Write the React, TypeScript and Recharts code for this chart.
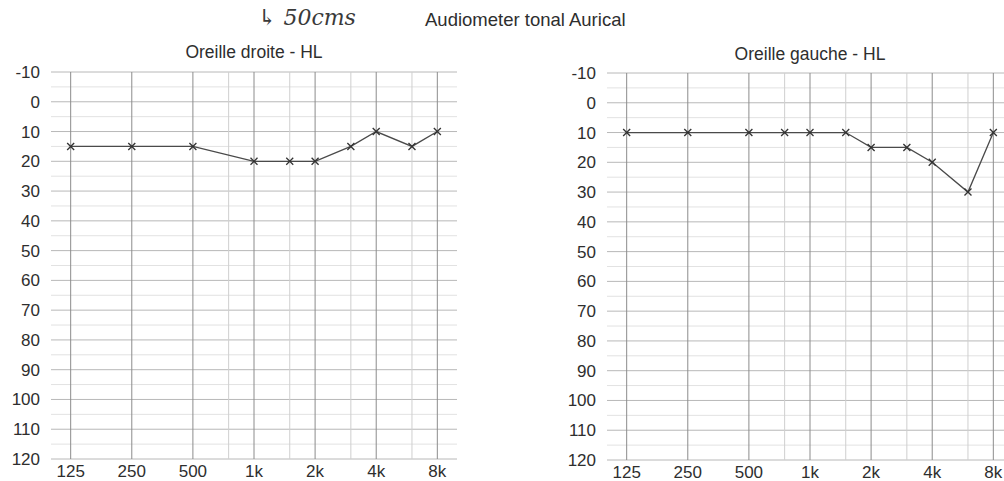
import React from 'react';
import { LineChart, Line, XAxis, YAxis, ReferenceLine } from 'recharts';

// frequencies (Hz) and thresholds (dB HL)
const rightFreqs = [125, 250, 500, 1000, 1500, 2000, 3000, 4000, 6000, 8000];
const rightDb = [15, 15, 15, 20, 20, 20, 15, 10, 15, 10];
const leftFreqs = [125, 250, 500, 750, 1000, 1500, 2000, 3000, 4000, 6000, 8000];
const leftDb = [10, 10, 10, 10, 10, 10, 15, 15, 20, 30, 10];

const octaveFreqs = [125, 250, 500, 1000, 2000, 4000, 8000];
const octaveLabels = ['125', '250', '500', '1k', '2k', '4k', '8k'];
const halfFreqs = [750, 1500, 3000, 6000];
const dbTicks = [-10, 0, 10, 20, 30, 40, 50, 60, 70, 80, 90, 100, 110, 120];
const dbMinor = [-5, 5, 15, 25, 35, 45, 55, 65, 75, 85, 95, 105, 115];

const FONT = '"Liberation Sans", Arial, sans-serif';
const TEXT = '#2e2e2e';

const Cross = (props: any) => {
    const { cx, cy } = props;
    if (cx == null || cy == null) return null;
    const s = 3.5;
    return (
        <g stroke="#333" strokeWidth={1.3}>
            <line x1={cx - s} y1={cy - s} x2={cx + s} y2={cy + s} />
            <line x1={cx - s} y1={cy + s} x2={cx + s} y2={cy - s} />
        </g>
    );
};

interface EarProps {
    freqs: number[];
    values: number[];
    width: number;
    top: number;
    right: number;
    xAxisHeight: number;
}

const EarChart: React.FC<EarProps> = ({ freqs, values, width, top, right, xAxisHeight }) => {
    const data = freqs.map((f, i) => ({ f, db: values[i] }));
    const label = (v: number) => octaveLabels[octaveFreqs.indexOf(v)] ?? String(v);

    return (
        <LineChart width={width} height={481} data={data} margin={{ top, right, bottom: 0, left: 0 }}>
            {dbMinor.map((d) => (
                <ReferenceLine key={'m' + d} y={d} stroke="#e2e2e2" strokeWidth={1} />
            ))}
            {dbTicks.map((d) => (
                <ReferenceLine key={'t' + d} y={d} stroke="#b8b8b8" strokeWidth={1} />
            ))}
            {halfFreqs.map((f) => (
                <ReferenceLine key={'h' + f} x={f} stroke="#cfcfcf" strokeWidth={1} />
            ))}
            {octaveFreqs.map((f) => (
                <ReferenceLine key={'o' + f} x={f} stroke="#8c8c8c" strokeWidth={1} />
            ))}
            <XAxis
                dataKey="f"
                type="number"
                scale="log"
                domain={[100, 10000]}
                allowDataOverflow
                ticks={octaveFreqs}
                tickFormatter={label}
                axisLine={false}
                tickLine={false}
                tickSize={0}
                tickMargin={6}
                height={xAxisHeight}
                interval={0}
                tick={{ fill: TEXT, fontSize: 17, fontFamily: FONT }}
            />
            <YAxis
                type="number"
                reversed
                domain={[-10, 120]}
                ticks={dbTicks}
                interval={0}
                axisLine={false}
                tickLine={false}
                tickSize={0}
                tickMargin={11}
                width={51}
                tick={{ fill: TEXT, fontSize: 17, fontFamily: FONT }}
            />
            <Line
                dataKey="db"
                stroke="#4a4a4a"
                strokeWidth={1.3}
                dot={<Cross />}
                activeDot={false}
                isAnimationActive={false}
            />
        </LineChart>
    );
};

const App: React.FC = () => {
    return (
        <div
            style={{
                position: 'absolute',
                left: 0,
                top: 0,
                width: 1004,
                height: 481,
                overflow: 'hidden',
                background: '#fff',
                fontFamily: FONT,
                color: TEXT,
            }}
        >
            <div style={{ position: 'absolute', left: 258, top: 5, fontSize: 22, fontStyle: 'italic', fontFamily: '"DejaVu Serif", serif', color: '#3a3a3a' }}>
                ↳ 50cms
            </div>
            <div style={{ position: 'absolute', left: 425, top: 9, fontSize: 18.5, whiteSpace: 'nowrap' }}>
                Audiometer tonal Aurical
            </div>
            <div style={{ position: 'absolute', left: 154, width: 200, top: 42, fontSize: 17.5, textAlign: 'center', whiteSpace: 'nowrap' }}>
                Oreille droite - HL
            </div>
            <div style={{ position: 'absolute', left: 710, width: 200, top: 44, fontSize: 17.5, textAlign: 'center', whiteSpace: 'nowrap' }}>
                Oreille gauche - HL
            </div>
            <div style={{ position: 'absolute', left: 0, top: 0 }}>
                <EarChart freqs={rightFreqs} values={rightDb} width={500} top={72} right={43} xAxisHeight={22} />
            </div>
            <div style={{ position: 'absolute', left: 556, top: 0 }}>
                <EarChart freqs={leftFreqs} values={leftDb} width={484} top={73} right={27} xAxisHeight={21} />
            </div>
        </div>
    );
};

export default App;
